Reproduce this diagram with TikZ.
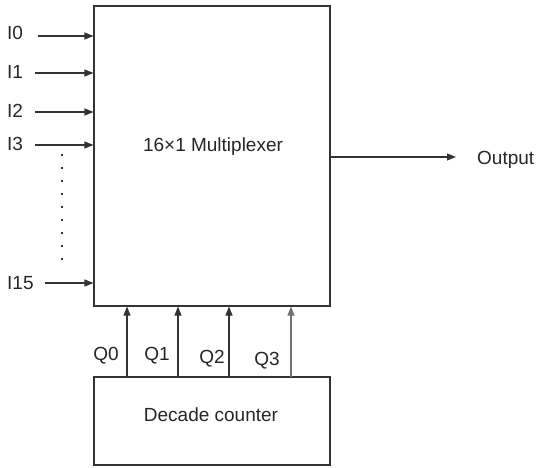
\documentclass[tikz,border=0pt]{standalone}
\usepackage{fontspec}
\setmainfont{Liberation Sans}
\usetikzlibrary{arrows.meta}
\begin{document}
\begin{tikzpicture}[x=1pt,y=1pt,
  lbl/.style={font=\fontsize{19}{22}\selectfont, inner sep=0pt, text=black!85},
  blk/.style={draw=black!80, line width=1.1pt, inner sep=0pt},
  sig/.style={draw=black!80, line width=1.1pt, -{Triangle[length=9pt,width=7pt]}}]
\useasboundingbox (0,0) rectangle (539,467);
% blocks
\node[blk, minimum width=236pt, minimum height=300pt] (mux) at (212,311) {};
\node[lbl] (muxt) at (213,320.5) {16×1 Multiplexer};
\node[blk, minimum width=236pt, minimum height=88pt] (cnt) at (212,46) {};
\node[lbl] (cntt) at (211,52) {Decade counter};
% inputs
\node[lbl, anchor=west] (i0) at (7,434) {I0};
\node[lbl, anchor=west] (i1) at (7,395) {I1};
\node[lbl, anchor=west] (i2) at (7,356) {I2};
\node[lbl, anchor=west] (i3) at (7,323) {I3};
\node[lbl, anchor=west] (i15) at (7,184) {I15};
\coordinate (s0) at (38,431);
\coordinate (s1) at (35,394);
\coordinate (s2) at (35,355);
\coordinate (s3) at (35,322);
\coordinate (s15) at (45,184);
\foreach \s in {0,1,2,3,15}{
  \draw[sig] (s\s) -- (s\s -| mux.west);
}
% dots
\coordinate (d1) at (62,313);
\coordinate (d2) at (62,198);
\draw[black!80, line width=1.2pt, dash pattern=on 2pt off 11pt] (d1) -- (d2);
% output
\node[lbl, anchor=west] (out) at (477,307.5) {Output};
\coordinate (oe) at (456,310);
\draw[sig] (oe -| mux.east) -- (oe);
% Q signals
\foreach \n/\x in {0/127,1/178,2/229}{
  \coordinate (q\n) at (\x,90);
  \draw[sig] (q\n) -- (q\n |- mux.south);
}
\coordinate (q3) at (291,90);
\draw[sig, draw=black!55] (q3) -- (q3 |- mux.south);
\node[lbl] (l0) at (106,111) {Q0};
\node[lbl] (l1) at (157,111) {Q1};
\node[lbl] (l2) at (212,108) {Q2};
\node[lbl] (l3) at (267,106) {Q3};
\end{tikzpicture}
\end{document}
